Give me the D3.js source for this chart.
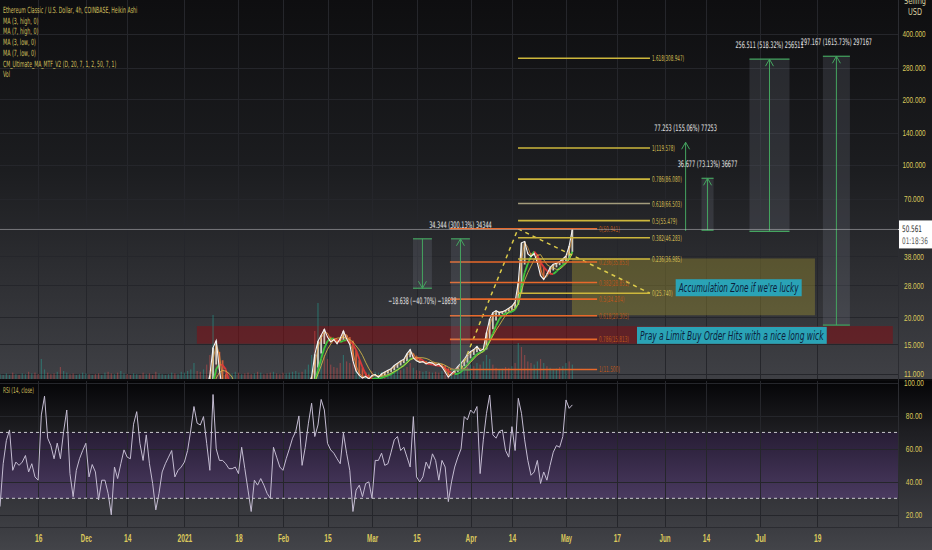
<!DOCTYPE html>
<html>
<head>
<meta charset="utf-8">
<script src="https://cdn.jsdelivr.net/npm/d3@7"></script>
<style>
  html, body { margin: 0; padding: 0; background: #0e0e10; overflow: hidden; }
  svg { display: block; font-family: 'Liberation Sans Narrow', 'DejaVu Sans Condensed', 'DejaVu Sans', sans-serif; }
</style>
</head>
<body>
<svg id="chart" width="932" height="550"></svg>
<script>
// ---- data ----
const rsiStart = '2020-11-04T00:00';   // one value per day
const rsiValues = [
  25, 51, 65, 71.5, 47, 52, 50, 52, 56, 46,
  51, 43, 41, 80.6, 92, 66.5, 62, 54, 63.5, 54,
  70.5, 83.6, 45, 31, 47, 54, 59, 63.4, 43, 50.5,
  46, 29, 41, 41, 33, 20, 49, 42, 51, 59.4,
  55, 54, 75, 82.6, 63.4, 53, 68.5, 51, 39, 23,
  33, 46, 51, 55, 59, 43, 47, 49, 52, 59,
  71.5, 85.7, 75.6, 74.5, 79.6, 63.4, 47, 93, 60, 53,
  53, 51, 48, 48, 49, 45, 61, 48, 35, 22,
  41, 38, 42, 38, 33, 30, 61, 55, 49, 47,
  54, 60, 66.5, 70.5, 80, 50, 61, 75.6, 87.7, 67.5,
  74.5, 90, 83.6, 63.4, 59.4, 57.4, 54, 51, 69.5, 57.4,
  47, 22, 35, 38, 31, 39, 40, 30, 53, 53,
  57.4, 50, 51, 58, 65.5, 67.5, 59, 61, 55, 49,
  79.6, 43, 40, 43, 52, 48, 57, 53, 41, 53,
  49, 28, 40, 49, 55, 60, 79.6, 77.6, 83.6, 81.6,
  85.7, 45, 65.5, 81.6, 92.7, 68.5, 66.5, 70.5, 71.5, 59,
  55, 73.5, 59, 90.7, 81.6, 65.5, 53, 44, 46, 53,
  39, 46, 41, 50, 58, 62, 61, 67.5, 89.7, 84.6,
  86.7
];
const volumes = [
  6, 5, 7, 5, 8, 6, 5, 7, 6, 9,
  7, 8, 6, 25, 12, 8, 6, 7, 9, 15,
  10, 8, 6, 7, 5, 6, 8, 7, 6, 5,
  6, 7, 5, 8, 9, 7, 6, 8, 10, 7,
  6, 5, 7, 6, 5, 8, 6, 7, 5, 9,
  7, 6, 5, 6, 8, 7, 6, 9, 8, 10,
  12, 20, 10, 9, 12, 18, 30, 80, 40, 20,
  12, 10, 8, 7, 9, 8, 6, 7, 8, 6,
  7, 9, 8, 6, 7, 8, 9, 7, 6, 8,
  7, 8, 9, 10, 8, 9, 12, 18, 30, 60,
  95, 50, 30, 25, 18, 15, 14, 20, 30, 22,
  20, 25, 18, 12, 10, 9, 8, 10, 9, 8,
  9, 10, 8, 9, 10, 12, 11, 13, 15, 20,
  14, 11, 10, 9, 10, 9, 8, 9, 8, 10,
  12, 14, 10, 9, 11, 12, 14, 15, 18, 16,
  20, 18, 22, 30, 25, 18, 14, 12, 13, 15,
  14, 16, 20, 45, 40, 30, 22, 20, 18, 22,
  25, 20, 16, 14, 12, 13, 15, 16, 20, 22,
  18
];
const priceStart = '2021-01-01T00:00';  // daily closes
const closes = [
  5.6, 5.8, 6.4, 7.2, 7.0, 7.5, 8.6, 9.5, 10.8, 14.5,
  15.6, 11.5, 9.2, 8.0, 7.6, 7.9, 8.2, 7.8, 7.4, 7.6,
  7.9, 7.5, 7.2, 7.0, 7.3, 7.6, 7.9, 8.3, 8.0, 8.2,
  8.5, 8.3, 8.6, 8.9, 8.7, 9.0, 9.3, 9.1, 8.8, 9.8,
  10.6, 13.5, 15.5, 16.5, 17.6, 16.2, 15.4, 15.8, 15.1, 16.0,
  17.3, 15.9, 15.0, 12.6, 11.3, 10.8, 10.5, 10.7, 10.4, 10.8,
  10.9, 10.6, 11.0, 11.2, 11.4, 11.6, 12.0, 12.3, 12.6, 12.8,
  13.6, 14.2, 13.0, 12.6, 12.4, 12.5, 12.2, 12.4, 12.3, 12.0,
  12.2, 11.8, 11.2, 10.6, 11.0, 11.4, 11.9, 12.3, 12.8, 13.5,
  13.9, 14.2, 14.7, 14.0, 14.3, 17.0, 19.6, 21.0, 21.4, 21.0,
  21.2, 21.5, 22.0, 22.5, 23.5, 29.0, 43.9, 44.5, 39.0, 38.0,
  39.2, 35.5, 31.0, 29.8, 31.5, 33.8, 35.0, 35.4, 36.0, 37.0,
  38.2, 42.5, 50.561
];
const lastPrice = 50.561;
const countdown = '01:18:36';

const priceTicks = [11, 15, 20, 28, 38, 70, 100, 140, 200, 280, 400];
const rsiTicks = [20, 40, 60, 80, 100];
const xTickDates = ['2020-11-16', '2020-12-01', '2020-12-14', '2021-01-01', '2021-01-18', '2021-02-01', '2021-02-15',
  '2021-03-01', '2021-03-15', '2021-04-01', '2021-04-14', '2021-05-01', '2021-05-17', '2021-06-01', '2021-06-14',
  '2021-07-01', '2021-07-19'];
const xTickLabels = ['16', 'Dec', '14', '2021', '18', 'Feb', '15', 'Mar', '15', 'Apr', '14', 'May', '17', 'Jun', '14', 'Jul', '19'];

const legendLines = ['Ethereum Classic / U.S. Dollar, 4h, COINBASE, Heikin Ashi', 'MA (3, high, 0)', 'MA (7, high, 0)',
  'MA (3, low, 0)', 'MA (7, low, 0)', 'CM_Ultimate_MA_MTF_V2 (D, 20, 7, 1, 2, 50, 7, 1)', 'Vol'];

// drawings
const zoneFrom = ['2021-01-04T22:00', '2021-05-02T21:00'];
const zoneTo = ['2021-08-11T19:00', '2021-07-18T07:00'];
const zoneLow = [15.1, 20.4];
const zoneHigh = [18.2, 37.2];
const zoneColor = ['rgba(135,14,20,0.52)', 'rgba(197,178,50,0.30)'];

const noteText = ["Accumulation Zone if we're lucky", 'Pray a Limit Buy Order Hits with a nice long wick'];
const noteDate = ['2021-06-04T12:00', '2021-05-23T08:00'];
const notePrice = [27.3, 16.5];

const fibOrangeLevels = [0, 0.236, 0.382, 0.5, 0.618, 0.786, 1];
const fibOrangeAnchors = [50.941, 11.5];
const fibOrangeSpan = ['2021-03-25T12:00', '2021-05-10T19:00'];
const fibYellowLevels = [0, 0.236, 0.382, 0.5, 0.618, 0.786, 1, 1.618];
const fibYellowAnchors = [25.74, 119.578];
const fibYellowSpan = ['2021-04-15T22:00', '2021-05-27T10:00'];

const trendDates = ['2021-03-29T00:00', '2021-04-15T22:00', '2021-05-27T10:00'];
const trendPrices = [11.5, 50.941, 25.74];

const measureFromDate = ['2021-03-13T21:00', '2021-03-25T20:00', '2021-06-07T15:00', '2021-06-12T15:00', '2021-06-27T17:00', '2021-07-20T19:00'];
const measureToDate = ['2021-03-19T20:00', '2021-03-31T19:00', '2021-06-07T15:00', '2021-06-16T10:00', '2021-07-10T07:00', '2021-07-29T07:00'];
const measureFromPrice = [45.790, 11.443, 49.820, 50.150, 49.489, 18.3921];
const measureToPrice = [27.152, 45.787, 127.073, 86.827, 306.000, 315.5591];

// ---- layout ----
const W = 932, plotW = 898;
const mainBot = 379, rsiTop = 381, rsiBot = 527;
const parse = d3.utcParse('%Y-%m-%dT%H:%M');
const parseDay = d3.utcParse('%Y-%m-%d');

const x = d3.scaleUtc().domain([parse('2020-11-04T00:00'), parse('2021-08-13T10:00')]).range([0, plotW]);
const y = d3.scaleLog().domain([10.4, 572]).range([mainBot, 0]);
const yr = d3.scaleLinear().domain([12.6, 101.2]).range([rsiBot, rsiTop]);
const yv = d3.scaleLinear().domain([0, 100]).range([mainBot, mainBot - 80]);

const svg = d3.select('#chart');
const defs = svg.append('defs');

function grad(id, stops) {
  const g = defs.append('linearGradient').attr('id', id)
    .attr('x1', 0).attr('x2', 0).attr('y1', 0).attr('y2', 1);
  stops.forEach(([o, c]) => g.append('stop').attr('offset', o).attr('stop-color', c));
}
grad('bgMain', [[0, '#0e0e10'], [0.45, '#1c1d20'], [1, '#3f4045']]);
grad('bgRsi', [[0, '#050507'], [0.35, '#1e1e22'], [1, '#3d3e43']]);
grad('bgBand', [[0, '#271d35'], [1, '#4a3a60']]);
grad('bgAxis', [[0, '#3b3c41'], [1, '#434449']]);

defs.append('clipPath').attr('id', 'clipMain').append('rect')
  .attr('x', 0).attr('y', 0).attr('width', plotW).attr('height', mainBot);
defs.append('clipPath').attr('id', 'clipRsi').append('rect')
  .attr('x', 0).attr('y', rsiTop).attr('width', plotW).attr('height', rsiBot - rsiTop);

// squeeze a text horizontally to a given width (the screenshot's type is condensed)
function squeeze(t, w, px, py) {
  const nat = t.node().getComputedTextLength();
  const k = nat > 0 ? w / nat : 1;
  t.attr('x', 0).attr('y', 0).attr('transform', `translate(${px},${py}) scale(${k},1)`);
}
function label(g, s, px, py, o = {}) {
  const t = g.append('text').attr('x', px).attr('y', py).text(s)
    .attr('font-size', o.size || 9).attr('fill', o.fill || '#ddd')
    .attr('text-anchor', o.anchor || 'start');
  if (o.italic) t.attr('font-style', 'italic');
  if (o.weight) t.attr('font-weight', o.weight);
  if (o.w) squeeze(t, o.w, px, py);
  return t;
}

// backgrounds
svg.append('rect').attr('width', W).attr('height', mainBot).attr('fill', 'url(#bgMain)');
svg.append('rect').attr('y', mainBot).attr('width', W).attr('height', rsiTop - mainBot).attr('fill', '#0a0a0c');
svg.append('rect').attr('y', rsiTop).attr('width', W).attr('height', rsiBot - rsiTop).attr('fill', 'url(#bgRsi)');
svg.append('rect').attr('x', 0).attr('y', yr(70)).attr('width', plotW).attr('height', yr(30) - yr(70)).attr('fill', 'url(#bgBand)');
svg.append('rect').attr('y', rsiBot).attr('width', W).attr('height', 550 - rsiBot).attr('fill', 'url(#bgAxis)');

// grid
const grid = svg.append('g').attr('stroke', '#25262b').attr('stroke-width', 1);
xTickDates.forEach(d => {
  const gx = Math.round(x(parseDay(d))) + 0.5;
  grid.append('line').attr('x1', gx).attr('x2', gx).attr('y1', 0).attr('y2', mainBot);
  grid.append('line').attr('x1', gx).attr('x2', gx).attr('y1', rsiTop).attr('y2', rsiBot);
});
priceTicks.forEach(p => {
  const gy = Math.round(y(p)) + 0.5;
  grid.append('line').attr('x1', 0).attr('x2', plotW).attr('y1', gy).attr('y2', gy);
});
rsiTicks.forEach(v => {
  const gy = Math.round(yr(v)) + 0.5;
  grid.append('line').attr('x1', 0).attr('x2', plotW).attr('y1', gy).attr('y2', gy);
});

// ---- main pane ----
const main = svg.append('g').attr('clip-path', 'url(#clipMain)');

// zones
zoneFrom.forEach((d, i) => {
  const x0 = x(parse(d)), x1 = x(parse(zoneTo[i]));
  main.append('rect').attr('x', x0).attr('y', y(zoneHigh[i]))
    .attr('width', x1 - x0).attr('height', y(zoneLow[i]) - y(zoneHigh[i]))
    .attr('fill', zoneColor[i]);
});

// volume
const volG = main.append('g');
volumes.forEach((v, i) => {
  const d = d3.utcDay.offset(parse(rsiStart), i);
  const upBar = i === 0 || rsiValues[i] >= rsiValues[i - 1];
  volG.append('rect').attr('x', x(d) - 0.6).attr('width', 1.2)
    .attr('y', yv(v)).attr('height', mainBot - yv(v))
    .attr('fill', upBar ? 'rgba(38,166,154,0.45)' : 'rgba(239,83,80,0.4)');
});

// fibs
function drawFib(levels, anchors, span, lineColor, textColor, altColor) {
  const g = svg.append('g');
  const x0 = x(parse(span[0])), x1 = x(parse(span[1]));
  const la = Math.log(anchors[0]), lb = Math.log(anchors[1]);
  levels.forEach(lv => {
    const p = Math.exp(la + lv * (lb - la));
    const ly = y(p);
    g.append('line').attr('x1', x0).attr('x2', x1).attr('y1', ly).attr('y2', ly)
      .attr('stroke', (altColor && lv === 0.618) ? altColor : lineColor).attr('stroke-width', 1.6);
    const s = `${lv}(${p.toFixed(3)})`;
    label(g, s, x1 + 2, ly + 3, { size: 8, fill: textColor, w: s.length * 2.3 });
  });
}
drawFib(fibOrangeLevels, fibOrangeAnchors, fibOrangeSpan, '#e8692a', '#b8561c');
drawFib(fibYellowLevels, fibYellowAnchors, fibYellowSpan, '#cdb73c', '#d2bd52', '#a39c7c');

// measurement boxes
const green = '#45a560';
const meas = svg.append('g');
measureFromDate.forEach((d0, i) => {
  const x0 = x(parse(d0)), x1 = x(parse(measureToDate[i]));
  const p0 = measureFromPrice[i], p1 = measureToPrice[i];
  const ya = y(p0), yb = y(p1), up = p1 > p0;
  const cx = (x0 + x1) / 2;
  if (x1 - x0 > 1) {
    meas.append('rect').attr('x', x0).attr('y', Math.min(ya, yb))
      .attr('width', x1 - x0).attr('height', Math.abs(yb - ya))
      .attr('fill', 'rgba(150,155,170,0.17)');
    [ya, yb].forEach(hy => meas.append('line').attr('x1', x0).attr('x2', x1)
      .attr('y1', hy).attr('y2', hy).attr('stroke', green).attr('stroke-width', 1.2));
  }
  meas.append('line').attr('x1', cx).attr('x2', cx).attr('y1', ya).attr('y2', yb)
    .attr('stroke', green).attr('stroke-width', 1);
  const ah = up ? 7 : -7;
  meas.append('path').attr('d', `M${cx - 4},${yb + ah}L${cx},${yb}L${cx + 4},${yb + ah}`)
    .attr('fill', 'none').attr('stroke', green).attr('stroke-width', 1);
  const diff = p1 - p0, pct = diff / p0 * 100;
  const s = `${diff.toFixed(3)} (${pct.toFixed(2)}%) ${Math.round(diff * 1000)}`.replace(/-/g, '\u2212');
  label(meas, s, cx, up ? yb - 11 : yb + 16, { size: 9, fill: '#e6e6e6', anchor: 'middle', w: s.length * 2.85 });
});

// candles (Heikin Ashi style from closes) and moving averages
const priceData = closes.map((c, i) => ({ date: d3.utcDay.offset(parse(priceStart), i), close: c }));
let haOpen = closes[0];
priceData.forEach((d, i) => {
  if (i > 0) haOpen = (haOpen + closes[i - 1]) / 2;
  d.open = haOpen;
});
function ma(n) {
  return priceData.map((d, i) => ({ date: d.date, v: d3.mean(closes.slice(Math.max(0, i - n + 1), i + 1)) }));
}
const candles = main.append('g');
priceData.forEach(d => {
  const top = y(Math.max(d.open, d.close)), bot = y(Math.min(d.open, d.close));
  candles.append('rect').attr('x', x(d.date) - 0.9).attr('width', 1.8)
    .attr('y', top).attr('height', Math.max(1, bot - top))
    .attr('fill', d.close >= d.open ? '#e9e4d4' : '#e0603a').attr('opacity', 0.85);
});
const lineGen = d3.line().x(d => x(d.date)).y(d => y(d.v));
const ma5 = ma(5);
ma5.forEach((d, i) => {
  if (i === 0) return;
  main.append('line').attr('x1', x(ma5[i - 1].date)).attr('y1', y(ma5[i - 1].v) + 2)
    .attr('x2', x(d.date)).attr('y2', y(d.v) + 2)
    .attr('stroke', d.v >= ma5[i - 1].v ? '#3ec43e' : '#d8383a').attr('stroke-width', 1.8);
});
main.append('path').datum(ma(7)).attr('d', lineGen).attr('fill', 'none')
  .attr('stroke', '#e8c84a').attr('stroke-width', 0.9).attr('opacity', 0.85);
main.append('path').datum(ma(2)).attr('d', lineGen).attr('fill', 'none')
  .attr('stroke', '#f0a040').attr('stroke-width', 0.9).attr('opacity', 0.8);
main.append('path').datum(priceData.map(d => ({ date: d.date, v: d.close }))).attr('d', lineGen)
  .attr('fill', 'none').attr('stroke', '#f4f4f4').attr('stroke-width', 1.1);

// dashed trend lines
main.append('path')
  .datum(trendDates.map((d, i) => ({ date: parse(d), v: trendPrices[i] })))
  .attr('d', lineGen).attr('fill', 'none').attr('stroke', '#dccb4a')
  .attr('stroke-width', 1.5).attr('stroke-dasharray', '4,4');

// current price line
svg.append('line').attr('x1', 0).attr('x2', plotW).attr('y1', y(lastPrice)).attr('y2', y(lastPrice))
  .attr('stroke', 'rgba(200,200,205,0.5)').attr('stroke-width', 1);

// notes
const notes = svg.append('g');
noteText.forEach((s, i) => {
  const nx = x(parse(noteDate[i])), ny = y(notePrice[i]);
  const tw = s.length * 3.75;
  notes.append('rect').attr('x', nx).attr('y', ny - 8.5).attr('width', tw + 6).attr('height', 17)
    .attr('fill', '#2aa3b6');
  label(notes, s, nx + 3, ny + 4.5, { size: 13, fill: '#0c1e3c', italic: true, w: tw });
});

// ---- RSI pane ----
const rsiG = svg.append('g').attr('clip-path', 'url(#clipRsi)');
[70, 30].forEach(v => rsiG.append('line').attr('x1', 0).attr('x2', plotW)
  .attr('y1', yr(v)).attr('y2', yr(v)).attr('stroke', '#c9c9cc')
  .attr('stroke-width', 1).attr('stroke-dasharray', '3,3'));
const rsiData = rsiValues.map((v, i) => ({ date: d3.utcDay.offset(parse(rsiStart), i), v }));
rsiG.append('path').datum(rsiData)
  .attr('d', d3.line().x(d => x(d.date)).y(d => yr(d.v)))
  .attr('fill', 'none').attr('stroke', '#c4bcd2').attr('stroke-width', 1);
label(svg, 'RSI (14, close)', 3, 393, { size: 8, fill: '#cdbd5a', w: 31 });

// ---- axes ----
svg.append('line').attr('x1', plotW + 0.5).attr('x2', plotW + 0.5).attr('y1', 0).attr('y2', rsiBot)
  .attr('stroke', '#2b2c31');
svg.append('line').attr('x1', 0).attr('x2', W).attr('y1', rsiBot + 0.5).attr('y2', rsiBot + 0.5)
  .attr('stroke', '#2b2c31');

const axisColor = '#dcc95c';
const pAxis = svg.append('g').attr('transform', `translate(${plotW},0)`)
  .call(d3.axisRight(y).tickValues(priceTicks).tickFormat(d3.format('.3f')).tickSize(0));
const rAxis = svg.append('g').attr('transform', `translate(${plotW},0)`)
  .call(d3.axisRight(yr).tickValues(rsiTicks).tickFormat(d3.format('.2f')).tickSize(0));
[pAxis, rAxis].forEach(a => {
  a.select('.domain').remove();
  a.selectAll('text').attr('text-anchor', 'middle').attr('fill', axisColor)
    .attr('font-size', 9).attr('font-family', null)
    .each(function () {
      const t = d3.select(this);
      squeeze(t, this.textContent.length * 3.3, 16, 0);
    });
});
const xAxis = svg.append('g').attr('transform', `translate(0,${rsiBot})`)
  .call(d3.axisBottom(x).tickValues(xTickDates.map(parseDay))
    .tickFormat((d, i) => xTickLabels[i]).tickSize(0));
xAxis.select('.domain').remove();
xAxis.selectAll('text').attr('fill', axisColor).attr('font-size', 10)
  .attr('font-weight', 'bold').attr('font-family', null).attr('dy', '0.35em')
  .each(function () {
    const t = d3.select(this);
    squeeze(t, this.textContent.length * 3.7, 0, 11);
  });

// currency label (top cut off)
label(svg, 'Selling', 915, 4, { size: 9, fill: '#d8d0a0', anchor: 'middle', w: 22 });
label(svg, 'USD', 915, 15, { size: 9, fill: '#d8d0a0', anchor: 'middle', w: 14 });

// last price box
const py = y(lastPrice);
svg.append('line').attr('x1', plotW).attr('x2', plotW + 3).attr('y1', py).attr('y2', py).attr('stroke', '#ddd');
svg.append('rect').attr('x', plotW + 1).attr('y', py - 9).attr('width', W - plotW - 1).attr('height', 28)
  .attr('fill', '#ffffff');
label(svg, lastPrice.toFixed(3), plotW + 4, py + 3, { size: 9, fill: '#2a2a2a', w: 20 });
label(svg, countdown, plotW + 4, py + 15, { size: 9, fill: '#5a5a5a', w: 26 });

// legend
const leg = svg.append('g');
legendLines.forEach((s, i) => {
  label(leg, s, 3, 13 + i * 10.7, { size: 8.5, fill: '#cfbf5c', w: s.length * 2.36 });
});
</script>
</body>
</html>
